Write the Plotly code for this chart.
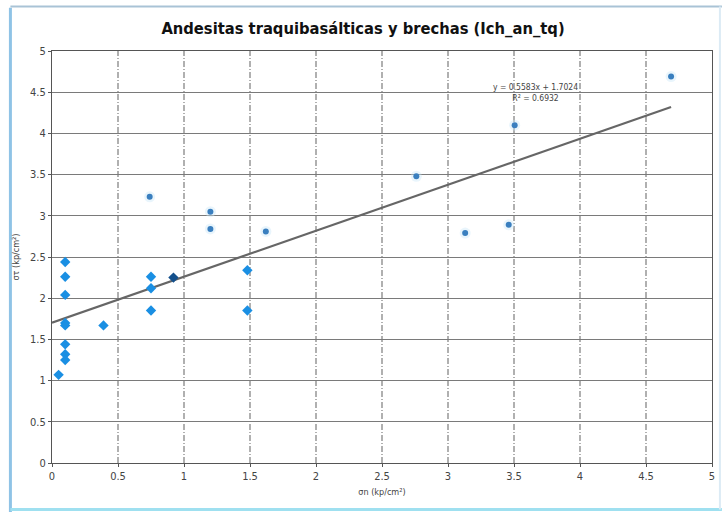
import plotly.graph_objects as go

# bright blue diamond points
x_main = [0.10, 0.10, 0.10, 0.10, 0.10, 0.10, 0.10, 0.10, 0.05, 0.39, 0.75, 0.75, 0.75, 1.48, 1.48]
y_main = [2.44, 2.26, 2.04, 1.70, 1.67, 1.44, 1.32, 1.25, 1.07, 1.67, 2.26, 2.12, 1.85, 2.34, 1.85]
# dark point
x_dark = [0.92]
y_dark = [2.25]
# faded (halo) points
x_faded = [0.74, 1.20, 1.20, 1.62, 2.76, 3.13, 3.46, 3.505, 4.69]
y_faded = [3.23, 3.05, 2.84, 2.81, 3.48, 2.79, 2.89, 4.10, 4.69]

slope = 0.5583
intercept = 1.7024
r2 = 0.6932
trend_x = [0.0, 4.69]
trend_y = [slope * v + intercept for v in trend_x]

x_ticks = [0, 0.5, 1, 1.5, 2, 2.5, 3, 3.5, 4, 4.5, 5]
x_tick_labels = ["0", "0.5", "1", "1.5", "2", "2.5", "3", "3.5", "4", "4.5", "5"]
y_ticks = [0, 0.5, 1, 1.5, 2, 2.5, 3, 3.5, 4, 4.5, 5]
y_tick_labels = ["0", "0.5", "1", "1.5", "2", "2.5", "3", "3.5", "4", "4.5", "5"]

FONT = "Liberation Sans Narrow, Arial Narrow, DejaVu Sans Condensed, sans-serif"

fig = go.Figure()

# vertical dashed grid lines
for xv in x_ticks[1:-1]:
    fig.add_shape(type="line", xref="x", yref="paper", x0=xv, x1=xv, y0=0, y1=1,
                  line=dict(color="#707070", width=1.1, dash="6px,2px,1px,2px"), layer="below")

fig.add_trace(go.Scatter(x=trend_x, y=trend_y, mode="lines",
                         line=dict(color="#666666", width=2.2), showlegend=False,
                         hoverinfo="skip"))
# halo for faded points
fig.add_trace(go.Scatter(x=x_faded, y=y_faded, mode="markers",
                         marker=dict(size=11, color="rgba(200,230,248,0.4)", line=dict(width=0)),
                         showlegend=False, hoverinfo="skip"))
fig.add_trace(go.Scatter(x=x_faded, y=y_faded, mode="markers",
                         marker=dict(size=6, color="#3a7fbf", line=dict(width=0)),
                         showlegend=False))
fig.add_trace(go.Scatter(x=x_main, y=y_main, mode="markers",
                         marker=dict(symbol="diamond", size=8, color="#1a8fe3", line=dict(width=0)),
                         showlegend=False))
fig.add_trace(go.Scatter(x=x_dark, y=y_dark, mode="markers",
                         marker=dict(symbol="diamond", size=8, color="#14508c", line=dict(width=0)),
                         showlegend=False))

fig.add_annotation(x=3.66, y=4.50, xref="x", yref="y",
                   text=f"y = {slope}x + {intercept}<br>R² = {r2}",
                   showarrow=False, font=dict(family=FONT, size=8.5, color="#444"),
                   align="center")

# outer frame (scan border)
fig.add_shape(type="line", xref="paper", yref="paper", x0=-0.063, x1=-0.063, y0=-0.12, y1=1.105,
              line=dict(color="#8fc3e6", width=3))
fig.add_shape(type="line", xref="paper", yref="paper", x0=-0.063, x1=1.015, y0=-0.113, y1=-0.113,
              line=dict(color="#9fe0f0", width=3))
fig.add_shape(type="line", xref="paper", yref="paper", x0=-0.063, x1=1.015, y0=1.108, y1=1.108,
              line=dict(color="#a9c3d6", width=2))
fig.add_shape(type="line", xref="paper", yref="paper", x0=1.012, x1=1.012, y0=-0.113, y1=1.108,
              line=dict(color="#dcebf5", width=2))

fig.update_layout(
    width=726, height=512,
    margin=dict(l=52, r=14, t=51, b=49),
    paper_bgcolor="white", plot_bgcolor="white",
    title=dict(text="<b>Andesitas traquibasálticas y brechas (Ich_an_tq)</b>",
               x=0.5, xanchor="center", y=0.945, yanchor="middle",
               font=dict(family=FONT, size=16.4, color="#111")),
    xaxis=dict(range=[0, 5], tickvals=x_ticks, ticktext=x_tick_labels,
               showgrid=False, zeroline=False, showline=True, linecolor="#555", linewidth=1.2,
               mirror=True, ticks="outside", ticklen=3, tickcolor="#555",
               tickfont=dict(family=FONT, size=11, color="#444"),
               title=dict(text="σn (kp/cm²)", font=dict(family=FONT, size=9, color="#444"), standoff=6)),
    yaxis=dict(range=[0, 5], tickvals=y_ticks, ticktext=y_tick_labels,
               showgrid=True, gridcolor="#7a7a7a", gridwidth=1.4, zeroline=False,
               showline=True, linecolor="#555", linewidth=1.2, mirror=True,
               ticks="outside", ticklen=3, tickcolor="#555",
               tickfont=dict(family=FONT, size=11, color="#444"),
               title=dict(text="στ (kp/cm²)", font=dict(family=FONT, size=9, color="#444"), standoff=8)),
)

fig.write_html("out.html")
